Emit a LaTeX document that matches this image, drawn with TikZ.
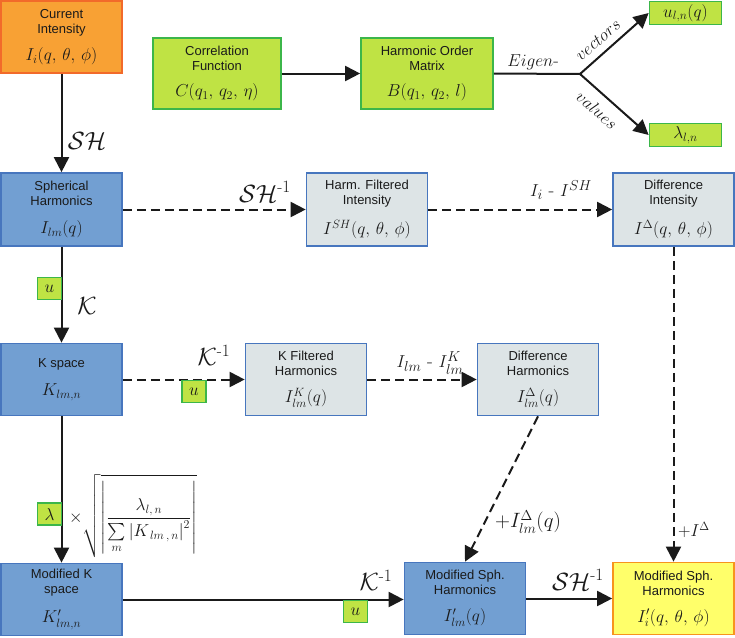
\documentclass[tikz,border=0pt]{standalone}
\usepackage{amsmath}
\usepackage{fontspec}
\setsansfont{Liberation Sans}
\usetikzlibrary{arrows.meta}
\definecolor{orfill}{HTML}{F8A134}
\definecolor{ordraw}{HTML}{F26A2A}
\definecolor{grfill}{HTML}{BFE344}
\definecolor{grdraw}{HTML}{3CB64A}
\definecolor{blfill}{HTML}{729FD2}
\definecolor{bldraw}{HTML}{4776BE}
\definecolor{gyfill}{HTML}{DDE4E6}
\definecolor{yefill}{HTML}{FFFF6A}
\definecolor{yedraw}{HTML}{F7941D}
\definecolor{ink}{HTML}{1A1A1A}
\newcommand{\bxm}[1]{{\fontsize{17}{20}\selectfont$#1$}}
\newcommand{\lbm}[1]{{\fontsize{18}{20}\selectfont$#1$}}
\newcommand{\inv}{^{\text{-}1}}
\tikzset{
  box/.style={draw, line width=1.7pt, inner sep=0pt, align=center,
    font=\fontsize{13}{15}\selectfont\sffamily, text=ink},
  bigbox/.style={box, minimum width=121pt, minimum height=72pt},
  orbox/.style={bigbox, fill=orfill, draw=ordraw},
  blbox/.style={bigbox, fill=blfill, draw=bldraw},
  gybox/.style={bigbox, fill=gyfill, draw=bldraw},
  yebox/.style={bigbox, fill=yefill, draw=yedraw},
  grbox/.style={box, fill=grfill, draw=grdraw},
  tiny/.style={grbox, minimum width=24pt, minimum height=22pt},
  conn/.style={line width=2pt, draw=ink},
  arr/.style={conn, -{Triangle[length=15pt,width=15pt]}},
  darr/.style={arr, dash pattern=on 9pt off 5pt},
  lab/.style={inner sep=0pt, text=ink},
}
\begin{document}
\begin{tikzpicture}[x=1pt,y=-1pt]
\useasboundingbox (0,0) rectangle (735,637);
% boxes
\node[orbox] (cur) at (61.5,37) {Current\\Intensity\\[11pt]\bxm{I_i(q,\,\theta,\,\phi)}};
\node[grbox, minimum width=128pt, minimum height=71pt] (corr) at (217,73.5) {Correlation\\Function\\[11pt]\bxm{C(q_1,\,q_2,\,\eta)}};
\node[grbox, minimum width=132pt, minimum height=71pt] (hom) at (427,73.5) {Harmonic Order\\Matrix\\[11pt]\bxm{B(q_1,\,q_2,\,l)}};
\node[grbox, minimum width=72pt, minimum height=23pt] (u1) at (685.5,13) {\bxm{u_{l,n}(q)}};
\node[grbox, minimum width=72pt, minimum height=23pt] (lam1) at (685.5,135) {\bxm{\lambda_{l,n}}};
\node[blbox, minimum height=73pt] (sh) at (61.5,209.5) {Spherical\\Harmonics\\[13pt]\bxm{I_{lm}(q)}};
\node[gybox, minimum height=73pt] (hfi) at (367,209.5) {Harm. Filtered\\Intensity\\[12pt]\bxm{I^{SH}(q,\,\theta,\,\phi)}};
\node[gybox, minimum height=73pt] (di) at (673.5,209.5) {Difference\\Intensity\\[12pt]\bxm{I^{\Delta}(q,\,\theta,\,\phi)}};
\node[blbox] (ks) at (61.5,379.5) {K space\\[13pt]\bxm{K_{lm,n}}};
\node[gybox] (kfh) at (306,379.5) {K Filtered\\Harmonics\\[12pt]\bxm{I^{K}_{lm}(q)}};
\node[gybox] (dh) at (538,379.5) {Difference\\Harmonics\\[12pt]\bxm{I^{\Delta}_{lm}(q)}};
\node[blbox] (mks) at (61.5,599.5) {Modified K\\space\\[12pt]\bxm{K'_{lm,n}}};
\node[blbox] (msh) at (465,598.5) {Modified Sph.\\Harmonics\\[12pt]\bxm{I'_{lm}(q)}};
\node[yebox] (msy) at (673.5,598.5) {Modified Sph.\\Harmonics\\[12pt]\bxm{I'_i(q,\,\theta,\,\phi)}};
% connectors
\draw[arr] (cur.south) -- (sh.north);
\draw[arr] (corr.east) -- (hom.west);
\coordinate (br) at (580,74);
\draw[conn] (hom.east) -- (br);
\draw[arr] (br) -- (u1.west);
\draw[arr] (br) -- (lam1.west);
\draw[darr] (sh.east) -- (hfi.west);
\draw[darr] (hfi.east) -- (di.west);
\draw[arr] (sh.south) -- (ks.north);
\draw[darr] (ks.east) -- (kfh.west);
\draw[darr] (kfh.east) -- (dh.west);
\draw[arr] (ks.south) -- (mks.north);
\draw[arr] (mks.east) -- (mks.east -| msh.west);
\draw[arr] (msh.east) -- (msy.west);
\draw[darr] (dh.south) -- (msh.north);
\draw[darr] (di.south) -- (msy.north);
% small green tags
\node[tiny] (ub1) at (49.5,288.5) {\bxm{u}};
\node[tiny] (ub2) at (194,391.5) {\bxm{u}};
\node[tiny] (ub3) at (355.5,611.5) {\bxm{u}};
\node[tiny] (lb) at (49.5,514) {\bxm{\lambda}};
% labels
\node[lab] (l1) at (87,141) {\fontsize{24}{26}\selectfont$\mathcal{SH}$};
\node[lab] (l2) at (87,306) {\fontsize{24}{26}\selectfont$\mathcal{K}$};
\node[lab] (l3) at (265,192) {\fontsize{24}{26}\selectfont$\mathcal{SH}\inv$};
\node[lab] (l4) at (561,190) {\fontsize{19}{21}\selectfont$I_i\text{ - }I^{SH}$};
\node[lab] (l5) at (214,355) {\fontsize{24}{26}\selectfont$\mathcal{K}\inv$};
\node[lab] (l6) at (430,363) {\fontsize{19}{21}\selectfont$I_{lm}\text{ - }I^{K}_{lm}$};
\node[lab] (l7) at (133,516) {\fontsize{17}{19}\selectfont$\displaystyle\times\sqrt{\left|\frac{\lambda_{l,\,n}}{\sum\limits_m \left|K_{\,lm\,,\,n}\right|^2}\right|}$};
\node[lab] (l8) at (528,522) {\fontsize{20}{22}\selectfont$+I^{\Delta}_{lm}(q)$};
\node[lab] (l9) at (694,530) {\lbm{+I^{\Delta}}};
\node[lab] (l10) at (376,580) {\fontsize{24}{26}\selectfont$\mathcal{K}\inv$};
\node[lab] (l11) at (578,580) {\fontsize{24}{26}\selectfont$\mathcal{SH}\inv$};
\node[lab] (l12) at (533,62) {\lbm{Eigen\text{-}}};
\node[lab, rotate=41] (l13) at (598,40) {{\fontsize{16}{18}\selectfont$vectors$}};
\node[lab, rotate=-41] (l14) at (597,110) {{\fontsize{16}{18}\selectfont$values$}};
\end{tikzpicture}
\end{document}
